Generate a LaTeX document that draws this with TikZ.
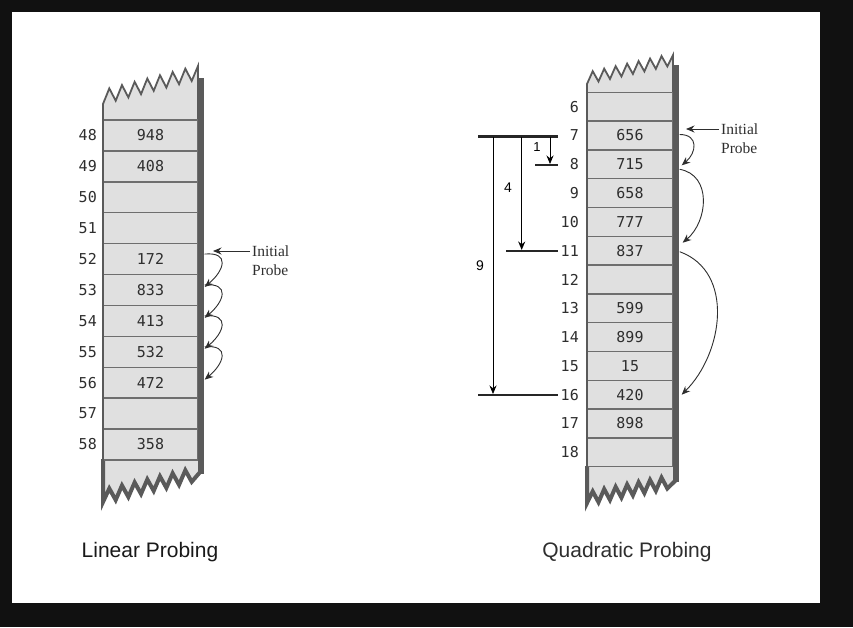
\documentclass[tikz,border=0pt]{standalone}
\usepackage{fontspec}
\setmainfont{Liberation Serif}
\setsansfont{Liberation Sans}
\newfontfamily\numfont{DejaVu Sans Mono}
\usetikzlibrary{arrows.meta, positioning, calc}
\definecolor{bgdark}{HTML}{111111}
\definecolor{cellgray}{HTML}{E0E0E0}
\definecolor{edgegray}{HTML}{5A5A5A}
\definecolor{rowgray}{HTML}{6E6E6E}
\definecolor{inkgray}{HTML}{2E2E2E}

\begin{document}
\begin{tikzpicture}[x=1pt, y=-1pt, >={Stealth[length=8.5pt,width=7pt]}]
    \tikzstyle{cell} = [rectangle, draw=rowgray, fill=cellgray, line width=1.4pt, inner sep=0pt, font=\numfont\fontsize{15}{15}\selectfont, text=inkgray]
    \tikzstyle{idx} = [anchor=east, inner sep=0pt, font=\numfont\fontsize{15}{15}\selectfont, text=inkgray]
    \tikzstyle{jag} = [fill=cellgray, draw=edgegray, line width=1.8pt, line join=miter]
    \tikzstyle{jagbot} = [fill=cellgray, draw=edgegray, line width=4pt, line join=miter]
    \tikzstyle{probe} = [->, line width=0.9pt, inkgray]
    \tikzstyle{note} = [anchor=west, inner sep=2pt, font=\fontsize{15.5}{15.5}\selectfont, text=inkgray]
    \tikzstyle{bar} = [line width=2.2pt, black!85]
    \tikzstyle{caption} = [font=\sffamily\fontsize{21}{21}\selectfont]

    % frame
    \fill[bgdark] (0,0) rectangle (853,627);
    \fill[white] (12,12) rectangle (820,603);

    % linear probing table
    \filldraw[jag] (103,121) -- (103,104)
        \foreach \k in {0,...,6} { -- ({109.3+12.67*\k},{88.4-3.29*\k}) -- ({115.7+12.67*\k},{100.7-3.29*\k}) }
        -- (198,66) -- (198,121);
    \filldraw[jagbot] (103,459) -- (103,502)
        \foreach \k in {0,...,6} { -- ({109.3+12.67*\k},{488.5-3.04*\k}) -- ({115.7+12.67*\k},{500-3.04*\k}) }
        -- (201,471) -- (201,459);
    \foreach \v [count=\i from 0] in {948,408,{},{},172,833,413,532,472,{},358} {
        \pgfmathtruncatemacro\r{48+\i}
        \node[cell, minimum width=95pt, minimum height=30.9pt] (L\r) at (150.5,{135.45+30.9*\i}) {\v};
        \node[idx] (iL\r) at (97,{135.45+30.9*\i}) {\r};
    }
    \draw[edgegray, line width=2pt] (103,104) -- (103,503);
    \fill[edgegray] (198,78) rectangle (204,474);

    % linear probes
    \node[note] (iniL) at (250,251) {Initial};
    \node[note] (proL) at (250,270) {Probe};
    \coordinate (tipL) at (213,251);
    \draw[probe] (iniL.west) -- (tipL);
    \foreach \a/\b in {52/53,53/54,54/55,55/56}
        \draw[probe] ([xshift=6pt,yshift=5pt]L\a.east) to[out=5,in=40,looseness=2] ([xshift=6pt,yshift=3pt]L\b.east);

    % quadratic probing table
    \filldraw[jag] (587,93) -- (587,84)
        \foreach \k in {0,...,6} { -- ({592.7+11.47*\k},{71.2-2.52*\k}) -- ({598.5+11.47*\k},{81.5-2.52*\k}) }
        -- (673,55) -- (673,93);
    \filldraw[jagbot] (587,466) -- (587,503)
        \foreach \k in {0,...,6} { -- ({592.7+11.47*\k},{491.4-2.29*\k}) -- ({598.5+11.47*\k},{502.2-2.29*\k}) }
        -- (676,480) -- (676,466);
    \foreach \v [count=\i from 0] in {{},656,715,658,777,837,{},599,899,15,420,898,{}} {
        \pgfmathtruncatemacro\r{6+\i}
        \node[cell, minimum width=86pt, minimum height=28.8pt] (R\r) at (630,{106.7+28.8*\i}) {\v};
        \node[idx] (iR\r) at (579,{106.7+28.8*\i}) {\r};
    }
    \draw[edgegray, line width=2pt] (587,84) -- (587,503);
    \fill[edgegray] (673,65) rectangle (679,482);

    % quadratic probes
    \node[note] (iniR) at (719,129) {Initial};
    \node[note] (proR) at (719,148) {Probe};
    \coordinate (tipR) at (686,129);
    \draw[probe] (iniR.west) -- (tipR);
    \draw[probe] ([xshift=6pt,yshift=1pt]R7.east) to[out=0,in=40,looseness=1.6] ([xshift=8pt,yshift=-1pt]R8.east);
    \draw[probe] ([xshift=6pt,yshift=-5pt]R8.east) to[out=-10,in=40,looseness=1.15] ([xshift=9pt,yshift=8pt]R11.east);
    \draw[probe] ([xshift=6pt,yshift=-1pt]R11.east) to[out=-20,in=45,looseness=1.05] ([xshift=8pt,yshift=0pt]R16.east);

    % step distances
    \coordinate (b7) at (478,136.5);
    \coordinate (e7) at (558,136.5);
    \coordinate (b8) at (535,165);
    \coordinate (e8) at (558,165);
    \coordinate (b11) at (506,251);
    \coordinate (e11) at (558,251);
    \coordinate (b16) at (478,395);
    \coordinate (e16) at (558,395);
    \draw[bar] (b7) -- (e7);
    \draw[bar] (b8) -- (e8);
    \draw[bar] (b11) -- (e11);
    \draw[bar] (b16) -- (e16);
    \coordinate (v1) at (550,136.5);
    \coordinate (v4) at (521.7,136.5);
    \coordinate (v9) at (493,136.5);
    \draw[->, line width=0.8pt] (v1) -- ([yshift=1pt]v1 |- e8);
    \draw[->, line width=1.4pt] (v4) -- ([yshift=1pt]v4 |- e11);
    \draw[->, line width=0.8pt] (v9) -- ([yshift=1pt]v9 |- e16);
    \node[font=\sffamily\fontsize{13}{13}\selectfont] (d1) at (537,147) {1};
    \node[font=\sffamily\fontsize{14}{14}\selectfont] (d4) at (508,188) {4};
    \node[font=\sffamily\fontsize{14}{14}\selectfont] (d9) at (480,266) {9};

    % captions
    \node[caption, text=black!90] (capL) at (150,552) {Linear Probing};
    \node[caption, text=inkgray] (capR) at (627,552) {Quadratic Probing};
\end{tikzpicture}
\end{document}
